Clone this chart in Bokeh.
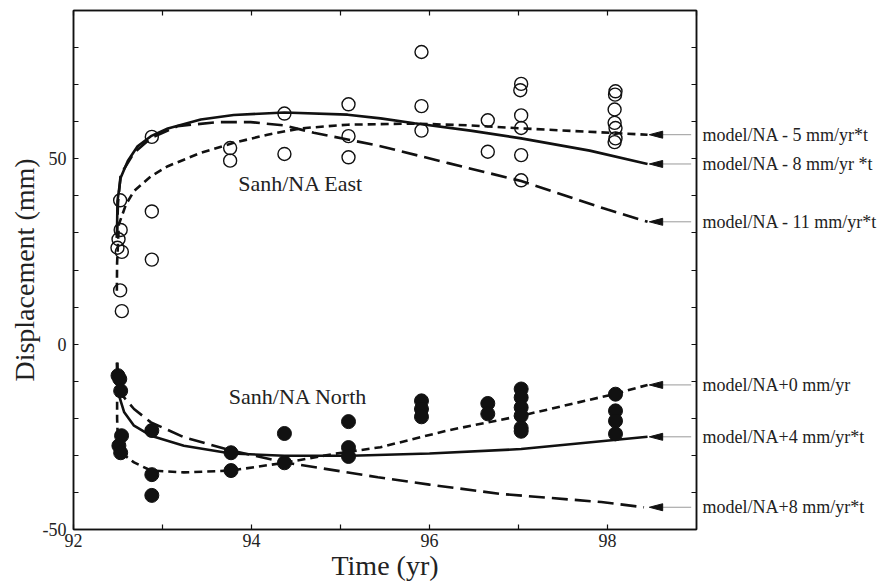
from bokeh.plotting import figure
from bokeh.models import Range1d, LinearAxis, FixedTicker
from bokeh.embed import file_html
from bokeh.resources import INLINE

# ---------------- data ----------------
east_t = [92.494, 92.506, 92.53, 92.524, 92.543, 92.524, 92.543,
          92.88, 92.88, 92.88,
          93.76, 93.76,
          94.37, 94.37,
          95.09, 95.09, 95.09,
          95.91, 95.91, 95.91,
          96.655, 96.655,
          97.03, 97.02, 97.03, 97.03, 97.03, 97.03,
          98.09, 98.085, 98.08, 98.08, 98.09, 98.09, 98.08]
east_d = [26.0, 28.3, 30.8, 38.8, 24.9, 14.5, 8.9,
          55.9, 35.8, 22.8,
          52.9, 49.5,
          62.2, 51.3,
          64.7, 56.1, 50.4,
          78.8, 64.2, 57.6,
          60.4, 51.9,
          70.2, 68.5, 61.7, 58.3, 51.0, 44.2,
          68.2, 67.3, 63.3, 59.7, 58.3, 55.5, 54.5]

north_t = [92.50, 92.52, 92.53, 92.54, 92.51, 92.53,
           92.88, 92.88, 92.88,
           93.77, 93.77,
           94.37, 94.37,
           95.09, 95.09, 95.09,
           95.91, 95.91, 95.91,
           96.655, 96.655,
           97.03, 97.03, 97.03, 97.03, 97.03, 97.03,
           98.09, 98.09, 98.09, 98.09]
north_d = [-8.5, -9.4, -12.6, -24.7, -27.4, -29.3,
           -23.3, -35.2, -40.8,
           -29.3, -34.1,
           -24.1, -32.0,
           -20.9, -27.9, -30.3,
           -15.3, -17.5, -19.6,
           -16.0, -18.8,
           -12.1, -14.4, -17.1, -19.3, -22.6, -23.5,
           -13.5, -18.0, -20.7, -24.2]

# model curves, East
e5_t = [92.487, 92.49, 92.51, 92.59, 92.68, 92.87, 93.06, 93.43, 93.80, 94.18, 94.55, 95.08, 95.83, 96.46, 97.03, 98.45]
e5_d = [14.4, 22.0, 32.3, 37.7, 41.3, 45.3, 48.0, 51.6, 54.3, 56.5, 58.2, 59.2, 59.5, 59.0, 58.2, 56.5]
e8_t = [92.488, 92.494, 92.53, 92.61, 92.72, 92.87, 93.06, 93.43, 93.80, 94.37, 95.08, 95.45, 95.83, 96.46, 97.03, 97.80, 98.45]
e8_d = [28.7, 38.6, 44.9, 49.4, 53.4, 56.1, 58.2, 60.6, 61.8, 62.5, 61.9, 60.9, 59.6, 57.6, 55.5, 52.2, 48.6]
e11_t = [92.488, 92.50, 92.53, 92.68, 92.87, 93.17, 93.62, 93.99, 94.37, 94.70, 95.08, 95.45, 96.20, 97.03, 98.00, 98.45]
e11_d = [28.7, 38.0, 45.8, 51.6, 55.6, 58.8, 59.9, 59.9, 59.0, 57.0, 55.2, 53.4, 48.9, 44.0, 36.3, 33.0]

# model curves, North
n0_t = [92.49, 92.49, 92.50, 92.53, 92.68, 92.87, 93.24, 93.77, 94.37, 94.93, 95.45, 96.20, 97.03, 98.07, 98.45]
n0_d = [-5.0, -20.0, -27.0, -29.2, -31.9, -34.1, -34.6, -34.1, -32.0, -29.6, -27.8, -23.3, -19.3, -13.5, -11.0]
n4_t = [92.49, 92.49, 92.50, 92.57, 92.68, 92.87, 93.24, 93.77, 94.37, 95.12, 96.00, 97.03, 98.45]
n4_d = [-5.0, -8.5, -13.0, -18.4, -22.0, -24.7, -27.4, -29.5, -30.1, -30.1, -29.5, -28.3, -25.0]
n8_t = [92.49, 92.50, 92.52, 92.68, 92.87, 93.24, 93.77, 94.37, 95.42, 96.00, 96.80, 97.93, 98.41]
n8_d = [-5.0, -10.0, -13.0, -17.5, -21.1, -25.1, -28.7, -31.9, -35.9, -37.9, -40.4, -42.6, -44.0]

curve_names = ["model/NA - 5 mm/yr*t", "model/NA - 8 mm/yr *t", "model/NA - 11 mm/yr*t",
               "model/NA+0 mm/yr", "model/NA+4 mm/yr*t", "model/NA+8 mm/yr*t"]

x_major = [92, 94, 96, 98]
x_minor = [93, 95, 97]
x_all = [92, 93, 94, 95, 96, 97, 98, 99]
y_major = [-50, 0, 50]
y_minor = [-40, -30, -20, -10, 10, 20, 30, 40, 60, 70, 80]
y_all = [-50, -40, -30, -20, -10, 0, 10, 20, 30, 40, 50, 60, 70, 80, 90]

SERIF = "Liberation Serif"
INK = "#111111"
TXT = "#222222"

# ---------------- figure ----------------
p = figure(width=881, height=584, x_range=Range1d(92, 99), y_range=Range1d(-50, 90),
           output_backend="svg", toolbar_location=None,
           min_border_left=73, min_border_right=185, min_border_top=10, min_border_bottom=55)
p.xgrid.visible = False
p.ygrid.visible = False
p.outline_line_color = INK
p.outline_line_width = 1.5
p.background_fill_color = "white"
p.border_fill_color = "white"


def style_axis(ax, major, minor):
    ax.ticker = FixedTicker(ticks=major, minor_ticks=minor)
    ax.axis_line_color = INK
    ax.axis_line_width = 1.5
    ax.major_tick_in = 5
    ax.major_tick_out = 0
    ax.minor_tick_in = 5
    ax.minor_tick_out = 0
    ax.major_tick_line_color = INK
    ax.minor_tick_line_color = INK
    ax.major_tick_line_width = 1.2
    ax.minor_tick_line_width = 1.2
    ax.major_label_text_font = SERIF
    ax.major_label_text_font_size = "18px"
    ax.major_label_text_color = TXT
    ax.axis_label_text_font = SERIF
    ax.axis_label_text_font_style = "normal"
    ax.axis_label_text_color = TXT
    ax.axis_label_text_font_size = "28px"
    ax.axis_label_standoff = 0


xa = p.xaxis[0]
style_axis(xa, x_major, x_minor)
xa.major_label_standoff = 4
xa.axis_label = "Time (yr)"

ya = p.yaxis[0]
style_axis(ya, y_major, y_minor)
ya.major_label_standoff = 7
ya.major_label_overrides = {-50: "-50", 0: "0", 50: "50"}
ya.axis_label = "Displacement (mm)"

# top: tick marks only
top_ax = LinearAxis()
style_axis(top_ax, [], x_all)
top_ax.major_label_standoff = 0
p.add_layout(top_ax, "above")

# right: tick marks every 10 + curve names at the curve end values
ends = [e5_d[-1], e8_d[-1], e11_d[-1], n0_d[-1], n4_d[-1], n8_d[-1]]
right_ax = LinearAxis()
style_axis(right_ax, ends, y_all)
right_ax.major_tick_line_color = None
right_ax.major_tick_in = 0
right_ax.major_label_standoff = 6
right_ax.major_label_overrides = {v: name for v, name in zip(ends, curve_names)}
p.add_layout(right_ax, "right")

# ---------------- curves ----------------
LW = 2.6
p.line(e5_t, e5_d, line_color=INK, line_width=LW, line_dash="8 5")
p.line(e8_t, e8_d, line_color=INK, line_width=LW)
p.line(e11_t, e11_d, line_color=INK, line_width=LW, line_dash="16 7")
p.line(n0_t, n0_d, line_color=INK, line_width=LW, line_dash="8 5")
p.line(n4_t, n4_d, line_color=INK, line_width=LW)
p.line(n8_t, n8_d, line_color=INK, line_width=LW, line_dash="16 7")

# ---------------- observations ----------------
p.scatter(east_t, east_d, marker="circle", size=13, fill_color=None,
          line_color=INK, line_width=1.4)
p.scatter(north_t, north_d, marker="circle", size=14, fill_color=INK,
          line_color=INK, line_width=1)

# ---------------- arrows ----------------
tip_x, base_x, line_end_x, half_h = 98.47, 98.62, 98.94, 0.95
p.segment(x0=[base_x] * len(ends), y0=ends, x1=[line_end_x] * len(ends), y1=ends,
          line_color="#9a9a9a", line_width=1)
p.patches(xs=[[tip_x, base_x, base_x] for _ in ends],
          ys=[[v, v + half_h, v - half_h] for v in ends],
          fill_color=INK, line_color=INK, line_width=1)

# ---------------- in-plot texts ----------------
p.text(x=[93.85, 93.745], y=[43.2, -14.2], text=["Sanh/NA East", "Sanh/NA North"],
       text_font={"value": SERIF}, text_font_size={"value": "22px"},
       text_color=TXT, text_baseline="middle", text_align="left")

open("out.html", "w").write(file_html(p, INLINE))
